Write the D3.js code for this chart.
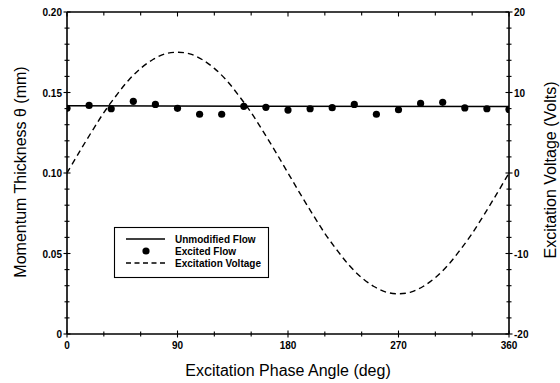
<!DOCTYPE html>
<html>
<head>
<meta charset="utf-8">
<script src="https://cdn.jsdelivr.net/npm/d3@7"></script>
<style>
  html, body { margin: 0; padding: 0; background: #fff; }
  svg { display: block; }
  text { fill: #000; }
</style>
</head>
<body>
<svg id="chart" width="560" height="383"></svg>
<script>
// ---- data ----
const excitedPhase = [0, 18, 36, 54, 72, 90, 108, 126, 144, 162, 180, 198, 216, 234, 252, 270, 288, 306, 324, 342, 360];
const excitedTheta = [0.1402, 0.1420, 0.1399, 0.1445, 0.1426, 0.1402, 0.1365, 0.1365, 0.1414, 0.1408, 0.1391, 0.1399, 0.1406, 0.1426, 0.1365, 0.1393, 0.1432, 0.1439, 0.1404, 0.1399, 0.1395];
const unmodPhase = [0, 360];
const unmodTheta = [0.1417, 0.1413];
const voltPhase = [0, 10, 20, 30, 40, 50, 60, 70, 80, 90, 100, 110, 120, 130, 140, 150, 160, 170, 180,
                   190, 200, 210, 220, 230, 240, 250, 260, 270, 280, 290, 300, 310, 320, 330, 340, 350, 360];
const voltValue = [0, 2.6, 5.1, 7.5, 9.6, 11.5, 13.0, 14.1, 14.8, 15.0, 14.8, 14.1, 13.0, 11.5, 9.6, 7.5, 5.1, 2.6, 0,
                   -2.6, -5.1, -7.5, -9.6, -11.5, -13.0, -14.1, -14.8, -15.0, -14.8, -14.1, -13.0, -11.5, -9.6, -7.5, -5.1, -2.6, 0];
const xTickLabels = [0, 90, 180, 270, 360];
const yLeftTickLabels = [0, 0.05, 0.10, 0.15, 0.20];
const yRightTickLabels = [-20, -10, 0, 10, 20];
const legendLabels = ["Unmodified Flow", "Excited Flow", "Excitation Voltage"];

// ---- layout ----
const W = 560, H = 383;
const m = { left: 67, right: 51, top: 12, bottom: 49 };
const svg = d3.select("#chart");
const x = d3.scaleLinear().domain([0, 360]).range([m.left, W - m.right]);
const y = d3.scaleLinear().domain([0, 0.20]).range([H - m.bottom, m.top]);
const y2 = d3.scaleLinear().domain([-20, 20]).range([H - m.bottom, m.top]);
const x0 = x(0), x1 = x(360), yb = y(0), yt = y(0.2);

svg.append("defs").append("clipPath").attr("id", "plotclip")
  .append("rect").attr("x", x0).attr("y", yt).attr("width", x1 - x0).attr("height", yb - yt);

const tickFont = "bold 10px 'Liberation Sans', Arial, sans-serif";

// frame lines
const frame = svg.append("g").attr("stroke", "#000").attr("stroke-width", 1.6).attr("fill", "none");
frame.append("line").attr("x1", x0).attr("x2", x1).attr("y1", yb).attr("y2", yb);
frame.append("line").attr("x1", x0).attr("x2", x1).attr("y1", yt).attr("y2", yt);
frame.append("line").attr("x1", x0).attr("x2", x0).attr("y1", yt).attr("y2", yb);
frame.append("line").attr("x1", x1).attr("x2", x1).attr("y1", yt).attr("y2", yb);

// ticks
const tk = svg.append("g").attr("stroke", "#000").attr("stroke-width", 1.1);
d3.range(0, 361, 30).forEach(v => {
  const major = v % 90 === 0;
  const len = major ? 3.5 : 2.5;
  tk.append("line").attr("x1", x(v)).attr("x2", x(v)).attr("y1", yb - len).attr("y2", yb + len);
  tk.append("line").attr("x1", x(v)).attr("x2", x(v)).attr("y1", yt).attr("y2", yt + len + 1);
});
d3.range(0, 21, 1).forEach(i => {
  const v = i / 100;
  const major = i % 5 === 0;
  const len = major ? 3.5 : 2.5;
  tk.append("line").attr("x1", x0 - len).attr("x2", x0 + len).attr("y1", y(v)).attr("y2", y(v));
});
d3.range(-20, 21, 2).forEach(v => {
  const major = v % 10 === 0;
  const len = major ? 3.5 : 2.5;
  tk.append("line").attr("x1", x1 - len).attr("x2", x1 + len).attr("y1", y2(v)).attr("y2", y2(v));
});

// tick labels
svg.append("g").selectAll("text").data(xTickLabels).join("text")
  .attr("x", d => x(d)).attr("y", yb + 15).attr("text-anchor", "middle")
  .style("font", tickFont).text(d => d);
svg.append("g").selectAll("text").data(yLeftTickLabels).join("text")
  .attr("x", x0 - 5).attr("y", d => y(d) + 4).attr("text-anchor", "end")
  .style("font", tickFont).text(d => d === 0 ? "0" : d.toFixed(2));
svg.append("g").selectAll("text").data(yRightTickLabels).join("text")
  .attr("x", x1 + 5).attr("y", d => y2(d) + 4).attr("text-anchor", "start")
  .style("font", tickFont).text(d => d);

// axis titles
const titleFont = "16px 'Liberation Sans', Arial, sans-serif";
svg.append("text").attr("x", (x0 + x1) / 2).attr("y", 376).attr("text-anchor", "middle")
  .style("font", titleFont).text("Excitation Phase Angle (deg)");
svg.append("text").attr("transform", "translate(26,172) rotate(-90)").attr("text-anchor", "middle")
  .style("font", titleFont).text("Momentum Thickness \u03b8 (mm)");
svg.append("text").attr("transform", "translate(556,170) rotate(-90)").attr("text-anchor", "middle")
  .style("font", titleFont).text("Excitation Voltage (Volts)");

// series
const plot = svg.append("g").attr("clip-path", "url(#plotclip)");
const unmodLine = d3.line().x((d, i) => x(unmodPhase[i])).y(d => y(d));
plot.append("path").datum(unmodTheta).attr("d", unmodLine)
  .attr("fill", "none").attr("stroke", "#000").attr("stroke-width", 1.5);

const voltLine = d3.line().x((d, i) => x(voltPhase[i])).y(d => y2(d)).curve(d3.curveCatmullRom);
plot.append("path").datum(voltValue).attr("d", voltLine)
  .attr("fill", "none").attr("stroke", "#000").attr("stroke-width", 1.4).attr("stroke-dasharray", "6,4");

plot.append("g").selectAll("circle").data(excitedTheta).join("circle")
  .attr("cx", (d, i) => x(excitedPhase[i])).attr("cy", d => y(d)).attr("r", 3.6).attr("fill", "#000");

// legend
const lg = svg.append("g");
lg.append("rect").attr("x", 114.5).attr("y", 227.5).attr("width", 154).attr("height", 50)
  .attr("fill", "#fff").attr("stroke", "#000").attr("stroke-width", 1.1);
const rows = [239, 251, 263];
lg.append("line").attr("x1", 126).attr("x2", 165).attr("y1", rows[0]).attr("y2", rows[0])
  .attr("stroke", "#000").attr("stroke-width", 1.5);
lg.append("circle").attr("cx", 146).attr("cy", rows[1]).attr("r", 3.6).attr("fill", "#000");
lg.append("line").attr("x1", 126).attr("x2", 165).attr("y1", rows[2]).attr("y2", rows[2])
  .attr("stroke", "#000").attr("stroke-width", 1.4).attr("stroke-dasharray", "5,3.5");
lg.selectAll("text.lbl").data(legendLabels).join("text").attr("class", "lbl")
  .attr("x", 175).attr("y", (d, i) => rows[i] + 3.5)
  .style("font", "bold 10px 'Liberation Sans', Arial, sans-serif").text(d => d);
</script>
</body>
</html>
